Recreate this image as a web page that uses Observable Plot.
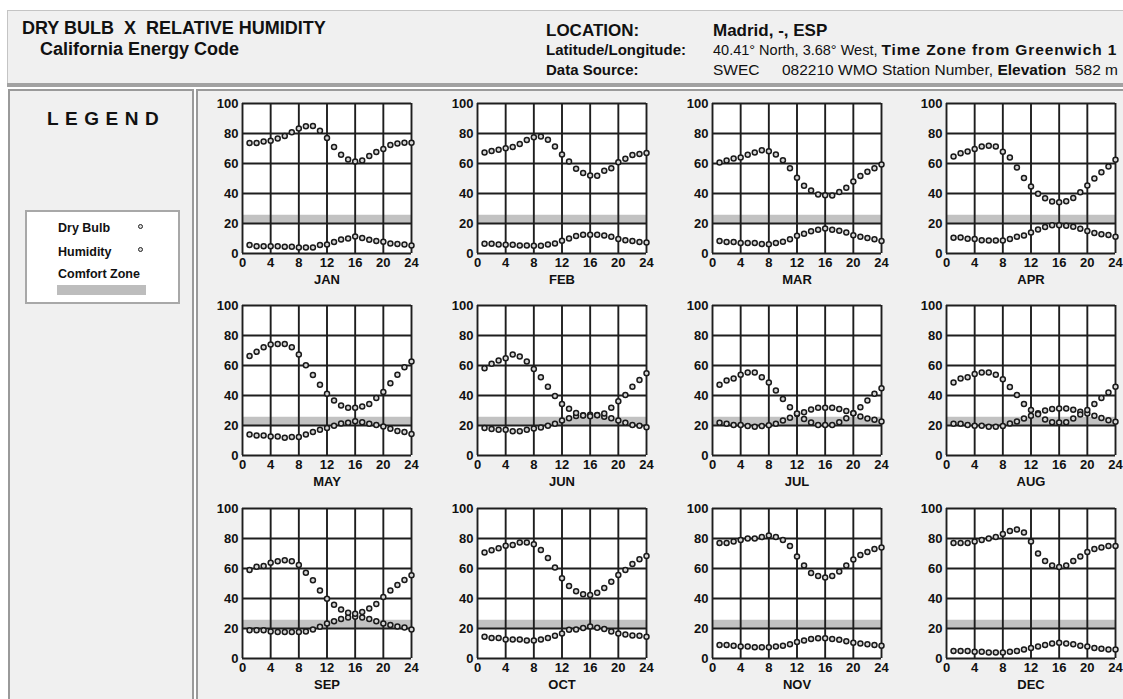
<!DOCTYPE html>
<html><head><meta charset="utf-8">
<script src="https://cdn.jsdelivr.net/npm/d3@7"></script>
<script src="https://cdn.jsdelivr.net/npm/@observablehq/plot@0.6"></script>
<style>
html,body{margin:0;padding:0}
body{width:1123px;height:699px;overflow:hidden;background:#fff;position:relative;font-family:Arial,"Liberation Sans",sans-serif;color:#111}
.abs{position:absolute;white-space:pre;line-height:1}
#header{position:absolute;left:7px;top:10px;width:1130px;height:73px;background:#f0f0f0;border-top:1px solid #c4c4c4;border-left:1px solid #c4c4c4}
#sep{position:absolute;left:7px;top:83px;width:1130px;height:4px;background:#a2a2a2}
#legendPanel{position:absolute;left:8px;top:89px;width:182px;height:620px;background:#f0f0f0;border:2px solid #9a9a9a}
#mainPanel{position:absolute;left:196px;top:89px;width:940px;height:620px;background:#f0f0f0;border:2px solid #9a9a9a}
#legendBox{position:absolute;left:25px;top:210px;width:151px;height:90px;background:#fff;border:2px solid #a8a8a8}
.ldot{position:absolute;width:3px;height:3px;border:1.6px solid #222;border-radius:50%;background:#ddd}
.chart{position:absolute;width:234px;height:202px}
.chart svg{overflow:visible;max-width:none}
</style>
</head><body>
<div id="header"></div>
<div id="sep"></div>
<div class="abs" style="left:22px;top:19px;font-size:18px;font-weight:bold">DRY BULB  X  RELATIVE HUMIDITY</div>
<div class="abs" style="left:40px;top:40px;font-size:18px;font-weight:bold">California Energy Code</div>
<div class="abs" style="left:546px;top:22px;font-size:17px;font-weight:bold">LOCATION:</div>
<div class="abs" style="left:713px;top:22px;font-size:17px;font-weight:bold">Madrid, -, ESP</div>
<div class="abs" style="left:546px;top:42px;font-size:15px;font-weight:bold">Latitude/Longitude:</div>
<div class="abs" style="left:713px;top:42px;font-size:14.5px">40.41° North, 3.68° West, <b style="font-size:15.5px;letter-spacing:0.9px">Time Zone from Greenwich 1</b></div>
<div class="abs" style="left:546px;top:62px;font-size:15px;font-weight:bold">Data Source:</div>
<div class="abs" style="left:713px;top:62px;font-size:15.5px">SWEC</div>
<div class="abs" style="left:782px;top:62px;font-size:15.5px">082210 WMO Station Number, <b>Elevation</b>  582 m</div>
<div id="legendPanel"></div>
<div id="mainPanel"></div>
<div class="abs" style="left:47px;top:109px;font-size:19px;font-weight:bold;letter-spacing:6.5px">LEGEND</div>
<div id="legendBox"></div>
<div class="abs" style="left:58px;top:222px;font-size:12.5px;font-weight:bold">Dry Bulb</div>
<div class="ldot" style="left:138px;top:224px"></div>
<div class="abs" style="left:58px;top:246px;font-size:12.5px;font-weight:bold">Humidity</div>
<div class="ldot" style="left:138px;top:247px"></div>
<div class="abs" style="left:58px;top:268px;font-size:12.5px;font-weight:bold">Comfort Zone</div>
<div style="position:absolute;left:57px;top:285px;width:89px;height:10px;background:#bdbdbd"></div>
<div id="charts"></div>
<script>
const months = ["JAN","FEB","MAR","APR","MAY","JUN","JUL","AUG","SEP","OCT","NOV","DEC"];
const hours = [1,2,3,4,5,6,7,8,9,10,11,12,13,14,15,16,17,18,19,20,21,22,23,24];
const xTicks = [0,4,8,12,16,20,24];
const yTicks = [0,20,40,60,80,100];
const comfortZone = [20, 25.5];

const humidityJan = [73.7,73.7,74.6,75.2,76.6,78.3,80.8,83.3,84.8,85,81.9,77,71,65.8,62.7,61.4,62,65,67.6,69.6,72.3,73.4,73.9,73.9];
const dryBulbJan  = [5.6,4.9,4.9,4.9,4.9,4.5,4.5,4,4,4,5.6,6,7.6,9.4,10,11.4,10.3,9.2,8.3,7.8,6.7,6.3,6,5.4];
const humidityFeb = [67.4,68.3,69.2,70.1,71,73,75.7,77.5,78,75.9,71.4,66,61.4,56.5,53.6,52,51.8,55.1,56.9,60.9,63.2,65.6,66.3,67];
const dryBulbFeb  = [6.5,6.5,6,5.8,5.8,5.4,5.4,5.1,5.1,6,6.7,8.5,10,11.6,12.5,12.5,12.5,12,11.2,9.6,8.9,8.3,7.6,7.4];
const humidityMar = [60.6,62,63.3,64,65.8,67.4,68.8,68.1,66,62.2,56.8,50.5,45.2,42,39.4,38.9,38.7,41,43.9,48,51.6,54.5,56.8,59.3];
const dryBulbMar  = [8.4,7.7,7.7,7,7,7,6.3,6.1,7,7.9,9.5,11.8,13.1,14.9,15.8,16.7,15.8,15.2,14,12.2,11.1,10.4,9.5,8.4];
const humidityApr = [64.7,66.9,68,69.6,71.4,71.9,71.4,67.9,64,57.4,50.4,44.6,39.9,36.8,34.6,34.2,34.8,37,40.8,45.3,50,54.2,58,62.5];
const dryBulbApr  = [10.5,10.7,9.8,9.6,8.9,8.7,8.7,8.7,9.6,11.2,12,14,16,17.6,18.8,18.8,18.5,17.9,16.5,15,13.6,12.9,12.3,11.2];
const humidityMay = [66.4,69.1,72.2,74,74.4,74.4,72.2,67.3,60.2,53.6,47.1,41.1,36.7,33.3,31.8,31.8,32.7,34.4,38.4,42.4,48.2,53.8,58.9,62.7];
const dryBulbMay  = [14,13.3,13.3,12.7,12.7,11.8,12.4,12.4,14,15.6,17.1,18.4,19.8,21.3,21.8,22.9,22.2,21.1,20.4,19.3,17.8,16.4,15.6,14.4];
const humidityJun = [58.2,61.1,63.3,64.9,67.3,66,62.7,57.6,52.2,45.8,39.6,34.4,31.1,28.4,26.7,26.2,26.9,28,31.8,36.2,40.4,45.8,50.4,54.9];
const dryBulbJun  = [18.4,17.6,17.1,17.1,16.2,16.2,17.1,18,18.7,19.8,21.1,23.3,24.9,26.4,26.9,27.2,27,25.8,24.9,23.3,21.8,20.4,19.8,18.9];
const humidityJul = [47.1,50,51.3,53.8,55.3,55.3,52.2,48.7,43.3,37.6,32.2,28,24.4,22,20.4,20.4,20.4,22.2,24.9,28.2,32.2,36.7,41.1,44.9];
const dryBulbJul  = [21.8,21.1,20.4,20.4,19.6,19.1,19.6,20.2,21.1,23.3,25.1,27.6,28.9,30.7,31.8,31.8,31.8,31,29.6,28.2,26,24.7,23.8,22.7];
const humidityAug = [48.7,51.3,52.2,54.4,55.3,55.3,53.8,50.9,45.6,40.4,34.4,30.4,27.5,24,22.2,22,22.2,24.7,27.3,30.4,34.4,38.4,42,45.8];
const dryBulbAug  = [21.1,21.1,20.4,19.8,19.8,19.1,19.1,19.6,21.3,22.7,24.7,26.5,28.2,30,31,31.3,31.3,30.5,29.2,28,26.5,25,23.5,22.5];
const humiditySep = [59,61.2,61.7,63.9,64.8,65.5,64.8,62.4,57.2,52.1,45.4,39.9,35.9,32.7,30.5,29.8,31,33.4,36.3,41,45.4,49,52.3,55.5];
const dryBulbSep  = [18.9,18.9,18.9,18,17.6,17.6,17.6,17.6,18,19.4,21.2,23.4,24.9,26.3,27.4,27.8,27.4,26.3,24.9,23.4,22.3,21.4,20.7,19.4];
const humidityOct = [70.6,72.2,73.5,75.1,75.7,77.3,77.3,76.2,72.4,67,60.6,53.5,48.3,44.8,42.8,42.3,43.9,47,51.2,55.7,59,63,66.1,68.4];
const dryBulbOct  = [14.5,13.6,13.6,12.7,12.7,12.7,12,12,12.7,13.6,15.1,16.7,19.2,19.4,20.3,21.4,20.5,19.6,18,16.7,16,15.4,15.1,14.5];
const humidityNov = [77,77,78,79,80,80,81,82,81,79,75,68,62,57,55,54,55,58,62,66,69,71,73,74];
const dryBulbNov  = [9,9,8.5,8,8,7.5,7.5,7.5,8,8.5,9.5,11,12,13,13.5,13.5,13,12.5,11.5,10.5,10,9.5,9,8.5];
const humidityDec = [77,77,77,78,79,80,81,83,85,86,84,78,70,65,62,61,62,65,68,71,73,74,75,75];
const dryBulbDec  = [5,5,5,4.5,4.5,4,4,4,4.5,5,6,7,8,9,10,10.5,10,9.5,8.5,8,7,6.5,6,6];

const humidity = [humidityJan,humidityFeb,humidityMar,humidityApr,humidityMay,humidityJun,humidityJul,humidityAug,humiditySep,humidityOct,humidityNov,humidityDec];
const dryBulb = [dryBulbJan,dryBulbFeb,dryBulbMar,dryBulbApr,dryBulbMay,dryBulbJun,dryBulbJul,dryBulbAug,dryBulbSep,dryBulbOct,dryBulbNov,dryBulbDec];

const plotLefts = [242.3, 476.5, 712.3, 945.7];
const plotTops = [103.3, 305, 507.7];
const mL = 34, mR = 31, mT = 10, mB = 42, pw = 169, ph = 150;
const container = document.getElementById("charts");

months.forEach((m, i) => {
  const col = i % 4, row = Math.floor(i / 4);
  const pts = hours.map((h, k) => ({hour: h, value: dryBulb[i][k]}))
    .concat(hours.map((h, k) => ({hour: h, value: humidity[i][k]})));
  const zone = [{x1: xTicks[0], x2: xTicks[xTicks.length - 1], y1: comfortZone[0], y2: comfortZone[1]}];
  const chart = Plot.plot({
    width: mL + pw + mR,
    height: mT + ph + mB,
    marginLeft: mL, marginRight: mR, marginTop: mT, marginBottom: mB,
    x: {domain: [0, 24], ticks: xTicks, tickSize: 0, tickPadding: 4, label: null, tickFormat: d => String(d)},
    y: {domain: [0, 100], ticks: yTicks, tickSize: 0, tickPadding: 4, label: null, tickFormat: d => String(d)},
    style: {background: "transparent", fontFamily: 'Arial, "Liberation Sans", sans-serif', fontSize: "13px", fontWeight: "bold", color: "#111", overflow: "visible", maxWidth: "none"},
    marks: [
      Plot.frame({fill: "white"}),
      Plot.rect(zone, {x1: "x1", x2: "x2", y1: "y1", y2: "y2", fill: "#c2c2c2"}),
      Plot.ruleX(xTicks, {stroke: "#1e1e1e", strokeWidth: 1.9}),
      Plot.ruleY(yTicks, {stroke: "#1e1e1e", strokeWidth: 1.9}),
      Plot.dot(pts, {x: "hour", y: "value", r: 2.5, stroke: "#1a1a1a", strokeWidth: 1.5, fill: "#d6d6d6"}),
      Plot.text([m], {text: d => d, frameAnchor: "bottom", dy: 30, fontSize: 13, fontWeight: "bold", fill: "#111"})
    ]
  });
  const wrap = document.createElement("div");
  wrap.className = "chart";
  wrap.style.left = (plotLefts[col] - mL) + "px";
  wrap.style.top = (plotTops[row] - mT) + "px";
  wrap.appendChild(chart);
  container.appendChild(wrap);
});
</script>
</body></html>
